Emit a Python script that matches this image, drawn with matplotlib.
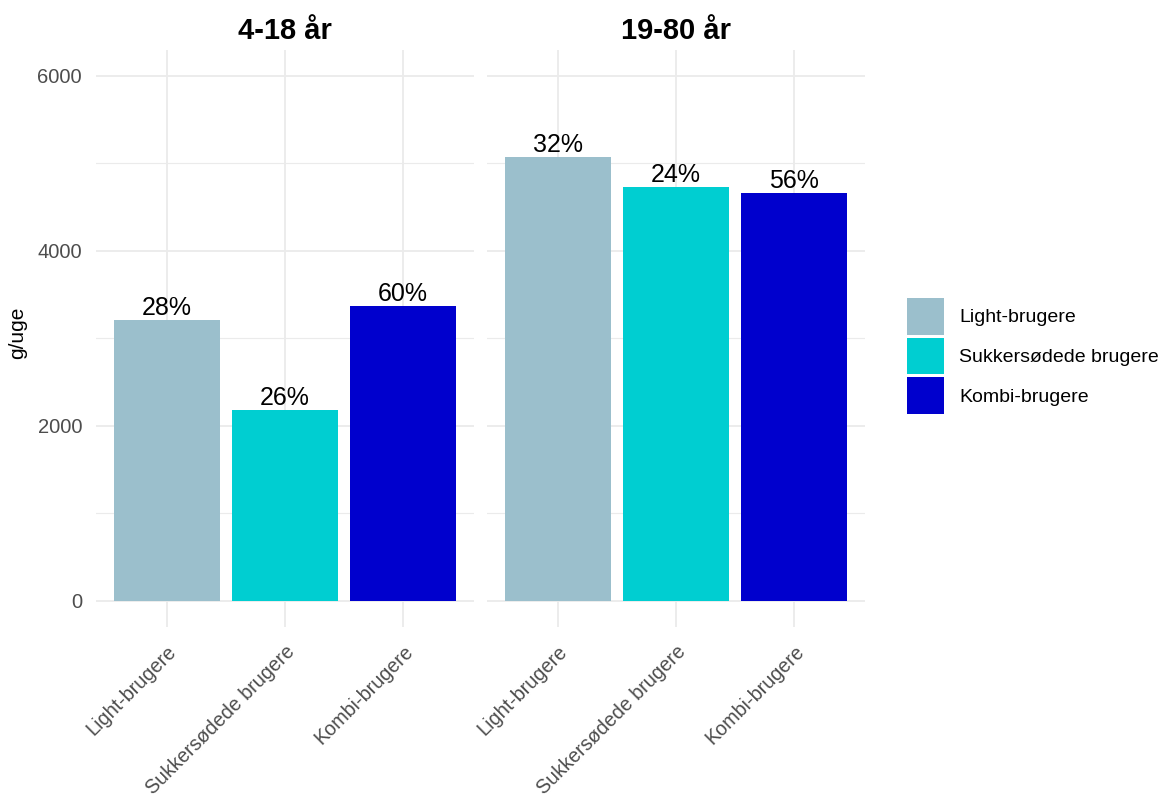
import numpy as np
import matplotlib.pyplot as plt
from matplotlib.patches import Patch

plt.rcParams["font.family"] = ["Liberation Sans", "DejaVu Sans"]

# data
groups = ["4-18 år", "19-80 år"]
categories = ["Light-brugere", "Sukkersødede brugere", "Kombi-brugere"]
values_4_18 = [3210, 2185, 3370]
values_19_80 = [5070, 4725, 4665]
pct_4_18 = ["28%", "26%", "60%"]
pct_19_80 = ["32%", "24%", "56%"]
colors = ["#9BBFCC", "#00CED1", "#0000CD"]

W, H = 1164, 794
fig = plt.figure(figsize=(W / 100, H / 100), dpi=100)
fig.patch.set_facecolor("white")

grid_col = "#EBEBEB"
tick_col = "#4D4D4D"


def panel(left_px, right_px, values, pcts, title, show_y):
    top_px, bottom_px = 50, 627
    ax = fig.add_axes([left_px / W, 1 - bottom_px / H,
                       (right_px - left_px) / W, (bottom_px - top_px) / H])
    x = np.arange(len(categories))
    bars = ax.bar(x, values, width=0.9, color=colors, zorder=2)
    ax.bar_label(bars, labels=pcts, padding=0, fontsize=18, color="black")
    ax.set_xlim(-0.6, 2.6)
    ax.set_ylim(-300, 6297)
    ax.set_yticks([0, 2000, 4000, 6000])
    ax.set_yticks([1000, 3000, 5000], minor=True)
    ax.set_xticks(x)
    ax.set_xticklabels(categories, rotation=45, ha="right",
                       rotation_mode="anchor", fontsize=14.2, color=tick_col)
    ax.grid(True, which="major", color=grid_col, lw=1.3, zorder=0)
    ax.grid(True, which="minor", axis="y", color=grid_col, lw=0.8, zorder=0)
    ax.set_axisbelow(True)
    for s in ax.spines.values():
        s.set_visible(False)
    ax.tick_params(which="both", length=0)
    ax.tick_params(axis="x", pad=11)
    if show_y:
        ax.tick_params(axis="y", labelsize=14.5, labelcolor=tick_col, pad=10)
    else:
        ax.tick_params(axis="y", labelleft=False)
    ax.set_title(title, fontsize=21, fontweight="bold", pad=8)
    return ax


ax1 = panel(96, 474, values_4_18, pct_4_18, groups[0], True)
ax2 = panel(487, 865, values_19_80, pct_19_80, groups[1], False)

fig.text(18 / W, 1 - 333 / H, "g/uge", rotation=90, fontsize=15,
         ha="center", va="center")

handles = [Patch(facecolor=c, edgecolor="none") for c in colors]
fig.legend(handles, categories, loc="center left",
           bbox_to_anchor=(889 / W, 1 - 356 / H), frameon=False,
           fontsize=14, handlelength=1.95, handleheight=2.55,
           labelspacing=0.15, handletextpad=0.75)

fig.savefig("out.png", dpi=100, facecolor="white")
